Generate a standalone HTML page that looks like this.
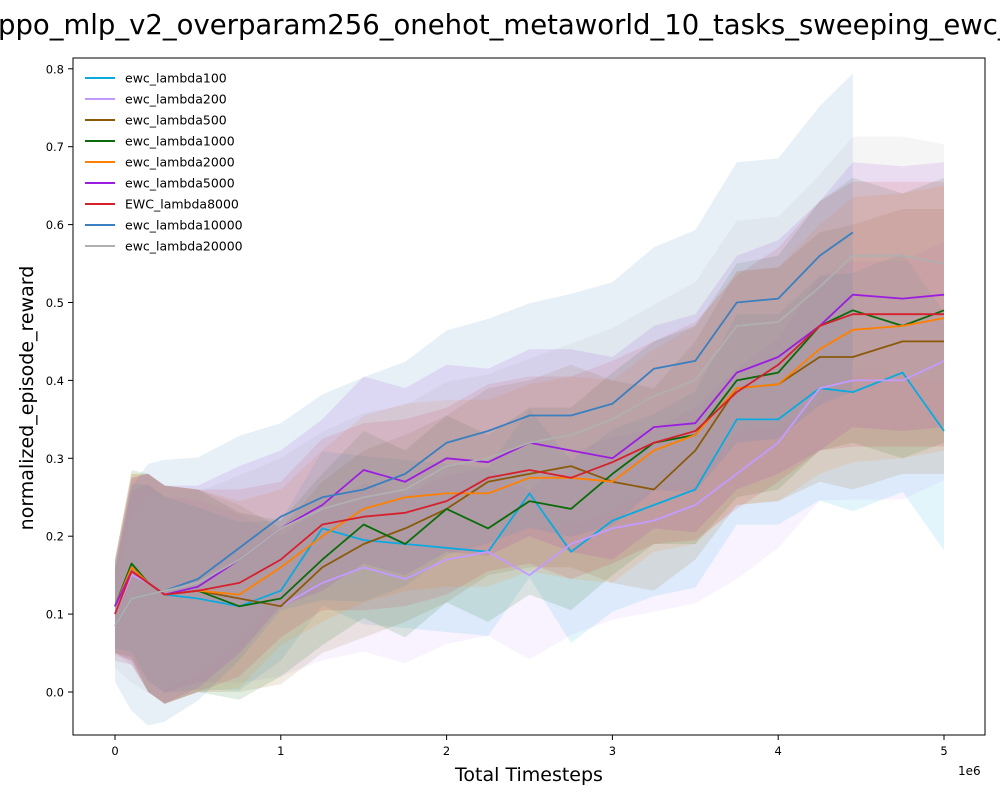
<!DOCTYPE html>
<html><head><meta charset="utf-8"><style>
body{margin:0;background:#fff;}
svg{display:block;font-family:"DejaVu Sans","Liberation Sans",sans-serif;}
</style></head><body>
<svg id="chart" width="1000" height="800" viewBox="0 0 1000 800">
<text x="-2" y="34" font-size="27.5" fill="#000">ppo_mlp_v2_overparam256_onehot_metaworld_10_tasks_sweeping_ewc_lambda</text>
<rect x="73" y="58" width="912" height="677" fill="none" stroke="#000" stroke-width="1"/>
<g id="bands"></g><g id="lines"></g><g id="axes"></g><g id="legend"></g>
<text x="529" y="781" font-size="19" text-anchor="middle">Total Timesteps</text>
<text transform="translate(33,398) rotate(-90)" font-size="19" text-anchor="middle">normalized_episode_reward</text>
<text x="958" y="775" font-size="12">1e6</text>
</svg>
<script>
const xs=[0,0.1,0.2,0.3,0.5,0.75,1,1.25,1.5,1.75,2,2.25,2.5,2.75,3,3.25,3.5,3.75,4,4.25,4.45,4.75,5];
const xTicks=[0,1,2,3,4,5];
const yTicks=[0.0,0.1,0.2,0.3,0.4,0.5,0.6,0.7,0.8];
const names=["ewc_lambda100","ewc_lambda200","ewc_lambda500","ewc_lambda1000","ewc_lambda2000","ewc_lambda5000","EWC_lambda8000","ewc_lambda10000","ewc_lambda20000"];
const colors=["#0aa9e0","#c39bff","#8a5a0a","#0a6b0a","#ff8000","#9b1ee0","#d6202e","#3a7fbf","#b0b0b0"];
const s100=[0.11,0.16,0.14,0.125,0.12,0.11,0.13,0.21,0.195,0.19,0.185,0.18,0.255,0.18,0.22,0.24,0.26,0.35,0.35,0.39,0.385,0.41,0.335];
const s200=[0.10,0.15,0.14,0.125,0.13,0.12,0.11,0.14,0.16,0.145,0.17,0.18,0.15,0.19,0.21,0.22,0.24,0.28,0.32,0.39,0.40,0.40,0.425];
const s500=[0.11,0.16,0.14,0.125,0.13,0.12,0.11,0.16,0.19,0.21,0.235,0.27,0.28,0.29,0.27,0.26,0.31,0.39,0.395,0.43,0.43,0.45,0.45];
const s1000=[0.11,0.165,0.14,0.125,0.13,0.11,0.12,0.17,0.215,0.19,0.235,0.21,0.245,0.235,0.28,0.32,0.33,0.40,0.41,0.47,0.49,0.47,0.49];
const s2000=[0.11,0.16,0.14,0.125,0.13,0.125,0.16,0.20,0.235,0.25,0.255,0.255,0.275,0.275,0.27,0.31,0.33,0.39,0.395,0.44,0.465,0.47,0.48];
const s5000=[0.11,0.155,0.14,0.125,0.135,0.17,0.21,0.24,0.285,0.27,0.30,0.295,0.32,0.31,0.30,0.34,0.345,0.41,0.43,0.47,0.51,0.505,0.51];
const s8000=[0.10,0.155,0.14,0.125,0.13,0.14,0.17,0.215,0.225,0.23,0.245,0.275,0.285,0.275,0.295,0.32,0.335,0.385,0.42,0.47,0.485,0.485,0.485];
const s10000=[0.085,0.12,0.125,0.13,0.145,0.185,0.225,0.25,0.26,0.28,0.32,0.335,0.355,0.355,0.37,0.415,0.425,0.50,0.505,0.56,0.59,null,null];
const s20000=[0.085,0.12,0.125,0.13,0.14,0.17,0.21,0.235,0.25,0.26,0.29,0.30,0.32,0.33,0.35,0.38,0.40,0.47,0.475,0.52,0.56,0.56,0.55];
const halfWidth=[0.06,0.12,0.14,0.14,0.13,0.12,0.10,0.11,0.12,0.12,0.12,0.12,0.12,0.13,0.13,0.13,0.14,0.15,0.15,0.16,0.17,0.17,0.17];
const bandScale=[0.9,0.9,1,1,1,1.0,1,1.2,0.9];
const series=[s100,s200,s500,s1000,s2000,s5000,s8000,s10000,s20000];
const NS="http://www.w3.org/2000/svg";
function X(v){return 115+v*165.8;}
function Y(v){return 692-v*779;}
function mk(t,a,p){const e=document.createElementNS(NS,t);for(const k in a)e.setAttribute(k,a[k]);p.appendChild(e);return e;}
const gB=document.getElementById('bands'),gL=document.getElementById('lines'),gA=document.getElementById('axes'),gG=document.getElementById('legend');
series.forEach((s,i)=>{
  const up=[],lo=[],ln=[];
  xs.forEach((x,j)=>{if(s[j]==null)return;const h=halfWidth[j]*bandScale[i];
    up.push(X(x).toFixed(1)+','+Y(s[j]+h).toFixed(1));lo.unshift(X(x).toFixed(1)+','+Y(s[j]-h).toFixed(1));ln.push(X(x).toFixed(1)+','+Y(s[j]).toFixed(1));});
  const b=mk('polygon',{points:up.concat(lo).join(' '),fill:colors[i],'fill-opacity':0.12,stroke:'none'},gB);
  
  
  const l=mk('polyline',{points:ln.join(' '),fill:'none',stroke:colors[i],'stroke-width':1.8,'stroke-linejoin':'round'},gL);
  
  
  const ly=78+i*21;
  const g=mk('g',{},gG);
  
  
  mk('line',{x1:85,x2:115,y1:ly,y2:ly,stroke:colors[i],'stroke-width':2},g);
  const t=mk('text',{x:125,y:ly+4.5,'font-size':12.5},g);t.textContent=names[i];
});
xTicks.forEach(v=>{const g=mk('g',{},gA);
  
  
  mk('line',{x1:X(v),x2:X(v),y1:735,y2:740,stroke:'#000'},g);
  const t=mk('text',{x:X(v),y:755,'font-size':11.5,'text-anchor':'middle'},g);t.textContent=v;});
yTicks.forEach(v=>{const g=mk('g',{},gA);
  
  
  mk('line',{x1:68,x2:73,y1:Y(v),y2:Y(v),stroke:'#000'},g);
  const t=mk('text',{x:64,y:Y(v)+4.5,'font-size':11.5,'text-anchor':'end'},g);t.textContent=v.toFixed(1);});
</script>
</body></html>
